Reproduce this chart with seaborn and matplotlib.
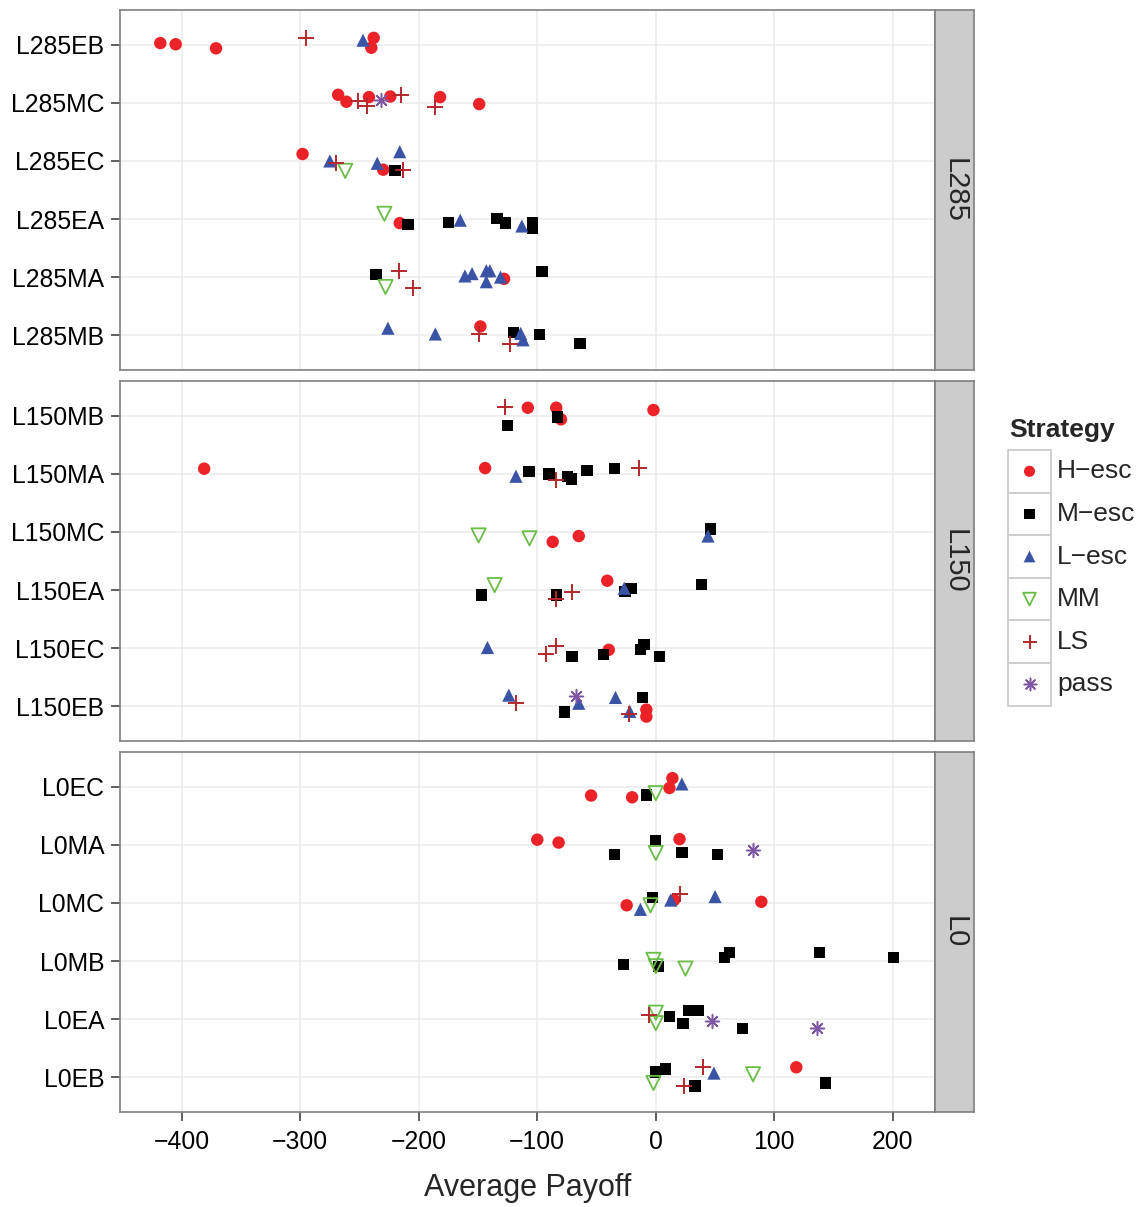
import pandas as pd
import matplotlib
matplotlib.use('Agg')
import matplotlib.pyplot as plt
from matplotlib.patches import Rectangle
import seaborn as sns

sns.set_theme(style='white')
plt.rcParams['font.family'] = ['Liberation Sans', 'DejaVu Sans']

# Strategy order as in the legend
strategies = ['H-esc', 'M-esc', 'L-esc', 'MM', 'LS', 'pass']
strategy_labels = ['H\u2212esc', 'M\u2212esc', 'L\u2212esc', 'MM', 'LS', 'pass']

panel_names = ['L285', 'L150', 'L0']
l285_rows = ['L285EB', 'L285MC', 'L285EC', 'L285EA', 'L285MA', 'L285MB']
l150_rows = ['L150MB', 'L150MA', 'L150MC', 'L150EA', 'L150EC', 'L150EB']
l0_rows = ['L0EC', 'L0MA', 'L0MC', 'L0MB', 'L0EA', 'L0EB']

x_ticks = [-400, -300, -200, -100, 0, 100, 200]

# (row, strategy, average payoff, vertical jitter)
l285_points = [
    ('L285EB', 'H-esc', -418, -0.03), ('L285EB', 'H-esc', -405, -0.01),
    ('L285EB', 'H-esc', -371, 0.06), ('L285EB', 'LS', -295, -0.12),
    ('L285EB', 'L-esc', -247, -0.08), ('L285EB', 'H-esc', -238, -0.12),
    ('L285EB', 'H-esc', -240, 0.05),
    ('L285MC', 'H-esc', -268, -0.14), ('L285MC', 'H-esc', -261, -0.02),
    ('L285MC', 'LS', -251, -0.04), ('L285MC', 'LS', -244, 0.05),
    ('L285MC', 'H-esc', -242, -0.10), ('L285MC', 'pass', -232, -0.05),
    ('L285MC', 'H-esc', -224, -0.11), ('L285MC', 'LS', -215, -0.14),
    ('L285MC', 'H-esc', -182, -0.10), ('L285MC', 'LS', -186, 0.07),
    ('L285MC', 'H-esc', -149, 0.02),
    ('L285EC', 'H-esc', -298, -0.12), ('L285EC', 'L-esc', -275, 0.0),
    ('L285EC', 'LS', -270, 0.04), ('L285EC', 'MM', -262, 0.17),
    ('L285EC', 'L-esc', -235, 0.04), ('L285EC', 'L-esc', -216, -0.16),
    ('L285EC', 'H-esc', -230, 0.15), ('L285EC', 'M-esc', -220, 0.17),
    ('L285EC', 'LS', -213, 0.15),
    ('L285EA', 'MM', -229, -0.09), ('L285EA', 'H-esc', -216, 0.07),
    ('L285EA', 'M-esc', -209, 0.09), ('L285EA', 'M-esc', -175, 0.06),
    ('L285EA', 'L-esc', -165, 0.02), ('L285EA', 'M-esc', -134, -0.01),
    ('L285EA', 'M-esc', -127, 0.07), ('L285EA', 'L-esc', -113, 0.12),
    ('L285EA', 'M-esc', -104, 0.06), ('L285EA', 'M-esc', -104, 0.16),
    ('L285MA', 'M-esc', -236, -0.05), ('L285MA', 'LS', -217, -0.10),
    ('L285MA', 'MM', -228, 0.17), ('L285MA', 'LS', -205, 0.18),
    ('L285MA', 'H-esc', -128, 0.03),
    ('L285MA', 'L-esc', -161, -0.02), ('L285MA', 'L-esc', -155, -0.06),
    ('L285MA', 'L-esc', -143, -0.11), ('L285MA', 'L-esc', -140, -0.11),
    ('L285MA', 'L-esc', -143, 0.08), ('L285MA', 'L-esc', -131, 0.0),
    ('L285MA', 'M-esc', -96, -0.10),
    ('L285MB', 'L-esc', -226, -0.12), ('L285MB', 'L-esc', -186, -0.02),
    ('L285MB', 'H-esc', -148, -0.15), ('L285MB', 'LS', -149, -0.02),
    ('L285MB', 'M-esc', -120, -0.05), ('L285MB', 'L-esc', -114, -0.03),
    ('L285MB', 'L-esc', -112, 0.08), ('L285MB', 'LS', -123, 0.15),
    ('L285MB', 'M-esc', -98, -0.01), ('L285MB', 'M-esc', -64, 0.14),
]

l150_points = [
    ('L150MB', 'LS', -127, -0.15), ('L150MB', 'H-esc', -108, -0.14),
    ('L150MB', 'H-esc', -84, -0.14), ('L150MB', 'M-esc', -83, 0.02),
    ('L150MB', 'H-esc', -80, 0.06), ('L150MB', 'M-esc', -125, 0.17),
    ('L150MB', 'H-esc', -2, -0.10),
    ('L150MA', 'H-esc', -381, -0.09), ('L150MA', 'H-esc', -144, -0.10),
    ('L150MA', 'L-esc', -118, 0.04), ('L150MA', 'M-esc', -107, -0.04),
    ('L150MA', 'M-esc', -90, 0.0), ('L150MA', 'M-esc', -74.5, 0.04),
    ('L150MA', 'M-esc', -71, 0.09), ('L150MA', 'LS', -84, 0.10),
    ('L150MA', 'M-esc', -58, -0.06), ('L150MA', 'M-esc', -35, -0.09),
    ('L150MA', 'LS', -14, -0.11),
    ('L150MC', 'MM', -149.5, 0.06), ('L150MC', 'MM', -106.6, 0.11),
    ('L150MC', 'H-esc', -87, 0.17), ('L150MC', 'H-esc', -65, 0.07),
    ('L150MC', 'M-esc', 46, -0.05), ('L150MC', 'L-esc', 44, 0.07),
    ('L150EA', 'M-esc', -147, 0.085), ('L150EA', 'MM', -136, -0.085),
    ('L150EA', 'M-esc', -84, 0.085), ('L150EA', 'LS', -84, 0.15),
    ('L150EA', 'LS', -70.6, 0.03), ('L150EA', 'H-esc', -41, -0.16),
    ('L150EA', 'M-esc', -26, 0.03), ('L150EA', 'M-esc', -21, -0.03),
    ('L150EA', 'L-esc', -26.7, -0.03), ('L150EA', 'M-esc', 38.5, -0.10),
    ('L150EC', 'L-esc', -142, -0.01), ('L150EC', 'LS', -93, 0.10),
    ('L150EC', 'LS', -84, -0.03), ('L150EC', 'M-esc', -70.6, 0.14),
    ('L150EC', 'M-esc', -44.4, 0.11), ('L150EC', 'H-esc', -39.7, 0.03),
    ('L150EC', 'M-esc', -13, 0.03), ('L150EC', 'M-esc', -10, -0.06),
    ('L150EC', 'M-esc', 3, 0.14),
    ('L150EB', 'L-esc', -124, -0.19), ('L150EB', 'LS', -118, -0.06),
    ('L150EB', 'M-esc', -77, 0.10), ('L150EB', 'pass', -67, -0.18),
    ('L150EB', 'L-esc', -65, -0.05), ('L150EB', 'L-esc', -34, -0.15),
    ('L150EB', 'M-esc', -11.5, -0.15), ('L150EB', 'L-esc', -22, 0.09),
    ('L150EB', 'LS', -22.5, 0.13), ('L150EB', 'H-esc', -8, 0.06),
    ('L150EB', 'H-esc', -8, 0.18),
]

l0_points = [
    ('L0EC', 'H-esc', 14, -0.15), ('L0EC', 'H-esc', 11.5, 0.02),
    ('L0EC', 'L-esc', 22, -0.05), ('L0EC', 'MM', 0, 0.11),
    ('L0EC', 'M-esc', -8, 0.14), ('L0EC', 'H-esc', -54.6, 0.15),
    ('L0EC', 'H-esc', -20, 0.18),
    ('L0MA', 'H-esc', -100, -0.09), ('L0MA', 'H-esc', -82, -0.04),
    ('L0MA', 'M-esc', 0, -0.07), ('L0MA', 'H-esc', 20, -0.10),
    ('L0MA', 'M-esc', -35, 0.16), ('L0MA', 'MM', 0, 0.14),
    ('L0MA', 'M-esc', 22, 0.13), ('L0MA', 'M-esc', 52, 0.16),
    ('L0MA', 'pass', 82, 0.09),
    ('L0MC', 'H-esc', -24.6, 0.04), ('L0MC', 'L-esc', -13, 0.11),
    ('L0MC', 'MM', -4.5, 0.04), ('L0MC', 'M-esc', -3, -0.09),
    ('L0MC', 'L-esc', 12.6, -0.05), ('L0MC', 'H-esc', 15.4, -0.05),
    ('L0MC', 'LS', 20.7, -0.16), ('L0MC', 'L-esc', 50, -0.11),
    ('L0MC', 'H-esc', 89, -0.02),
    ('L0MB', 'M-esc', -27, 0.06), ('L0MB', 'MM', -2, -0.02),
    ('L0MB', 'MM', 0, 0.09), ('L0MB', 'M-esc', 2.2, 0.09),
    ('L0MB', 'MM', 25, 0.13), ('L0MB', 'M-esc', 58, -0.06),
    ('L0MB', 'M-esc', 62, -0.15), ('L0MB', 'M-esc', 138, -0.15),
    ('L0MB', 'M-esc', 200.6, -0.06),
    ('L0EA', 'LS', -6, -0.07), ('L0EA', 'MM', 0, -0.11),
    ('L0EA', 'MM', 0, 0.07), ('L0EA', 'M-esc', 11.5, -0.05),
    ('L0EA', 'M-esc', 28, -0.15), ('L0EA', 'M-esc', 36, -0.15),
    ('L0EA', 'M-esc', 23, 0.07), ('L0EA', 'pass', 47, 0.03),
    ('L0EA', 'M-esc', 73, 0.16), ('L0EA', 'pass', 135.6, 0.16),
    ('L0EB', 'M-esc', 0, -0.09), ('L0EB', 'M-esc', 8, -0.14),
    ('L0EB', 'MM', -2, 0.10), ('L0EB', 'LS', 24, 0.16),
    ('L0EB', 'M-esc', 33, 0.15), ('L0EB', 'LS', 40, -0.18),
    ('L0EB', 'L-esc', 49, -0.07), ('L0EB', 'MM', 82, -0.05),
    ('L0EB', 'H-esc', 118.5, -0.17), ('L0EB', 'M-esc', 143.4, 0.10),
]

# marker style per strategy (ggplot shapes 16, 15, 17, 6, 3, 8)
styles = {
    'H-esc': dict(marker='o', s=80, color='#EB2227', edgecolor='none', linewidth=0),
    'M-esc': dict(marker='s', s=66, color='#000000', edgecolor='none', linewidth=0),
    'L-esc': dict(marker='^', s=90, color='#3A53A4', edgecolor='none', linewidth=0),
    'MM': dict(marker='v', s=105, color='#6ABD45', facecolor='none', edgecolor='#6ABD45', linewidth=1.3),
    'LS': dict(marker='+', s=130, color='#B2282E', linewidth=1.4),
    'pass': dict(marker=(8, 2, 0), s=100, color='#7F56A5', linewidth=1.1),
}

W, H = 1141, 1207
fig = plt.figure(figsize=(W / 100, H / 100), dpi=100)

panel_left, panel_right, strip_right = 120, 935, 974
panel_tops = [10, 381, 752]
panel_h = 360

for i, (name, rows, pts) in enumerate(zip(panel_names, [l285_rows, l150_rows, l0_rows],
                                         [l285_points, l150_points, l0_points])):
    top = panel_tops[i]
    ax = fig.add_axes([panel_left / W, 1 - (top + panel_h) / H,
                       (panel_right - panel_left) / W, panel_h / H])
    df = pd.DataFrame(pts, columns=['Row', 'Strategy', 'Payoff', 'Jitter'])
    df['ypos'] = df['Row'].map({r: k for k, r in enumerate(rows)}) + df['Jitter']

    for s in strategies:
        sub = df[df['Strategy'] == s]
        if len(sub):
            sns.scatterplot(data=sub, x='Payoff', y='ypos', ax=ax, zorder=3, **styles[s])

    ax.set_xlim(-452, 235.5)
    ax.set_ylim(5.6, -0.6)
    ax.set_xticks(x_ticks)
    ax.set_yticks(range(len(rows)))
    ax.set_yticklabels(rows)
    ax.set_xlabel('')
    ax.set_ylabel('')
    ax.set_facecolor('white')
    ax.grid(True, color='#EBEBEB', linewidth=1.1)
    ax.set_axisbelow(True)
    for sp in ax.spines.values():
        sp.set_color('#7F7F7F')
        sp.set_linewidth(1.2)
    ax.tick_params(axis='y', length=6.8, width=1.1, color='#333333', pad=4.5,
                   labelsize=17.8, labelcolor='black', left=True)
    if i < 2:
        ax.tick_params(axis='x', length=0, labelbottom=False)
    else:
        ax.set_xticklabels([f'{t:d}'.replace('-', '\u2212') for t in x_ticks])
        ax.tick_params(axis='x', length=6.8, width=1.1, color='#333333', pad=6.5,
                       labelsize=17.8, labelcolor='black', bottom=True)

    # facet strip on the right
    sax = fig.add_axes([panel_right / W, 1 - (top + panel_h) / H,
                        (strip_right - panel_right) / W, panel_h / H])
    sax.set_facecolor('#CCCCCC')
    sax.set_xticks([])
    sax.set_yticks([])
    for sp in sax.spines.values():
        sp.set_color('#7F7F7F')
        sp.set_linewidth(1.2)
    sax.text(0.5, 0.5, name, rotation=-90, ha='center', va='center',
             fontsize=21, transform=sax.transAxes)

fig.text((panel_left + panel_right) / 2 / W, 1 - 1188 / H, 'Average Payoff',
         ha='center', va='center', fontsize=22)

# legend drawn by hand with ggplot-style key boxes
lax = fig.add_axes([1000 / W, 1 - 710 / H, 141 / W, 305 / H])
lax.set_xlim(1000, 1141)
lax.set_ylim(710, 405)
lax.axis('off')
lax.text(1009, 430, 'Strategy', fontsize=19, fontweight='bold', ha='left', va='center')
key_h = 42.6
for k, (s, lab) in enumerate(zip(strategies, strategy_labels)):
    y0 = 450 + k * key_h
    lax.add_patch(Rectangle((1008, y0), 43, key_h, facecolor='white',
                            edgecolor='#CCCCCC', linewidth=1.3))
    st = dict(styles[s])
    st['s'] = st['s'] * 0.8
    lax.scatter([1029.5], [y0 + key_h / 2], zorder=3, **st)
    lax.text(1057, y0 + key_h / 2, lab, fontsize=19, ha='left', va='center')

fig.savefig('out.png', dpi=100)
